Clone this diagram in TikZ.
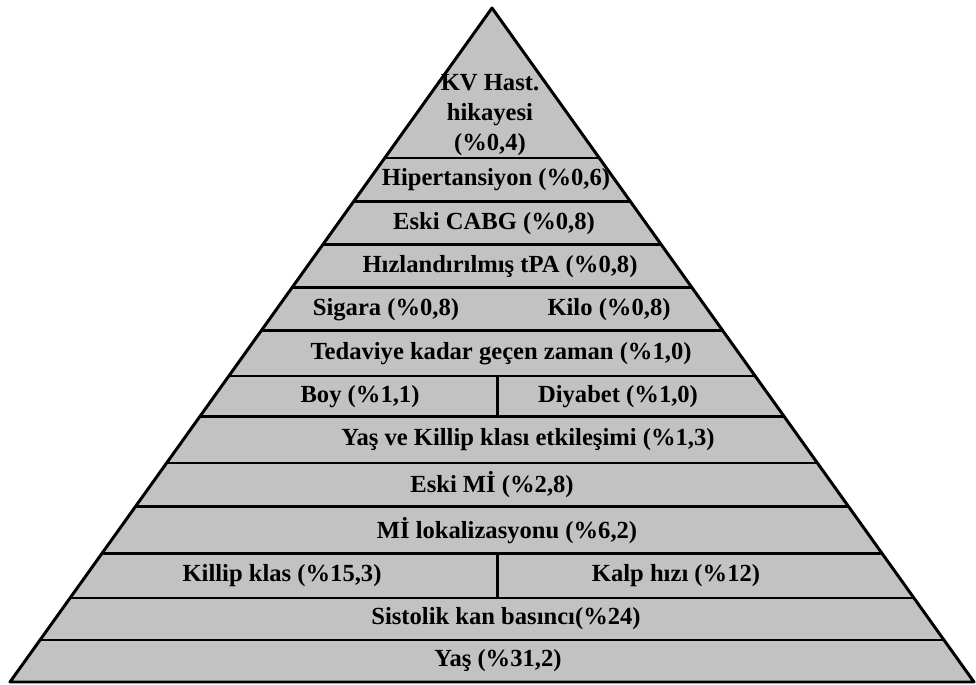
\documentclass[tikz,border=0pt]{standalone}
\usepackage{fontspec}
\setmainfont{Liberation Serif}
\usetikzlibrary{calc}
\tikzset{
  pyramid/.style = {draw=black, fill=black!24, line width=1.7pt, line join=round},
  band/.style    = {draw=black, line width=1.7pt},
  factor/.style  = {font=\fontsize{14}{17}\selectfont\bfseries,
                    inner sep=0pt, align=center}
}

\begin{document}
\begin{tikzpicture}[x=0.02cm, y=-0.02cm]
  \useasboundingbox (0,0) rectangle (976,685);
  \coordinate (apex) at (492,8);
  \coordinate (bl)   at (10,682);
  \coordinate (br)   at (974,682);
  \filldraw [pyramid] (apex) -- (br) -- (bl) -- cycle;
  % horizontal bands
  \foreach \y in {158,202,245,288,331,376,417,463,507,554,598,640}
    \draw [band] ($(apex)!{(\y-8)/674}!(bl)$) -- ($(apex)!{(\y-8)/674}!(br)$);
  % split rows
  \draw [band] (497,376) -- (497,417);
  \draw [band] (497,554) -- (497,598);
  % factors
  \node [factor] (kv)            at (490,115) {KV Hast.\\hikayesi\\(\%0,4)};
  \node [factor] (hipertansiyon) at (496,180) {Hipertansiyon (\%0,6)};
  \node [factor] (cabg)          at (494,223.5) {Eski CABG (\%0,8)};
  \node [factor] (tpa)           at (500,266.5) {Hızlandırılmış tPA (\%0,8)};
  \node [factor] (sigara)        at (386,309.5) {Sigara (\%0,8)};
  \node [factor] (kilo)          at (609,309.5) {Kilo (\%0,8)};
  \node [factor] (tedavi)        at (501,353.5) {Tedaviye kadar geçen zaman (\%1,0)};
  \node [factor] (boy)           at (360,396.5) {Boy (\%1,1)};
  \node [factor] (diyabet)       at (618,396.5) {Diyabet (\%1,0)};
  \node [factor] (etkilesim)     at (528,440) {Yaş ve Killip klası etkileşimi (\%1,3)};
  \node [factor] (eskimi)        at (492,485) {Eski Mİ (\%2,8)};
  \node [factor] (lokal)         at (507,530.5) {Mİ lokalizasyonu (\%6,2)};
  \node [factor] (killip)        at (282,576) {Killip klas (\%15,3)};
  \node [factor] (kalp)          at (676,576) {Kalp hızı (\%12)};
  \node [factor] (sistolik)      at (506,619) {Sistolik kan basıncı(\%24)};
  \node [factor] (yas)           at (498,661) {Yaş (\%31,2)};
\end{tikzpicture}
\end{document}
